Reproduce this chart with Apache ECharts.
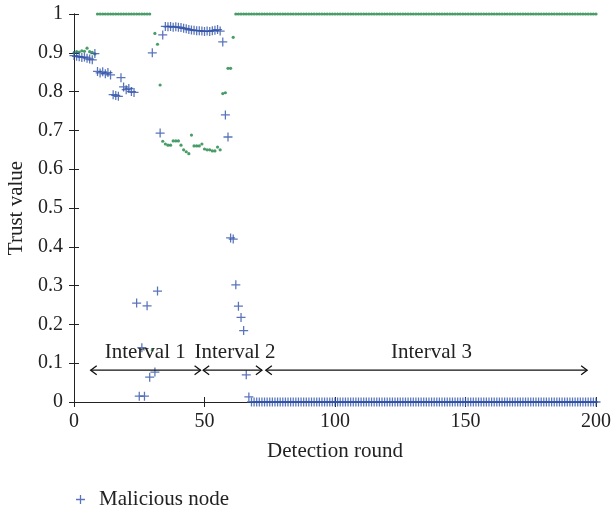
<!DOCTYPE html>
<html>
<head>
<meta charset="utf-8">
<script src="https://cdn.jsdelivr.net/npm/echarts@6/dist/echarts.min.js"></script>
<style>html,body{margin:0;padding:0;background:#fff}#c{width:611px;height:510px}</style>
</head>
<body>
<div id="c"></div>
<script>
// Trust values per detection round (index = round 0..200)
const maliciousTrust = [
0.893,0.891,0.890,0.888,0.889,0.886,0.884,0.882,0.898,0.852,
0.848,0.851,0.846,0.849,0.843,0.792,0.790,0.788,0.836,0.812,
0.805,0.808,0.800,0.798,0.255,0.015,0.140,0.015,0.248,0.064,
0.900,0.077,0.286,0.693,0.946,0.968,0.967,0.968,0.966,0.967,
0.966,0.965,0.963,0.962,0.960,0.959,0.958,0.957,0.957,0.956,
0.955,0.956,0.955,0.957,0.958,0.960,0.956,0.928,0.740,0.683,
0.423,0.420,0.302,0.247,0.218,0.184,0.070,0.013,0,0,
0,0,0,0,0,0,0,0,0,0,
0,0,0,0,0,0,0,0,0,0,
0,0,0,0,0,0,0,0,0,0,
0,0,0,0,0,0,0,0,0,0,
0,0,0,0,0,0,0,0,0,0,
0,0,0,0,0,0,0,0,0,0,
0,0,0,0,0,0,0,0,0,0,
0,0,0,0,0,0,0,0,0,0,
0,0,0,0,0,0,0,0,0,0,
0,0,0,0,0,0,0,0,0,0,
0,0,0,0,0,0,0,0,0,0,
0,0,0,0,0,0,0,0,0,0,
0,0,0,0,0,0,0,0,0,0,
0
];
const normalTrust = [
0.900,0.903,0.902,0.905,0.904,0.912,0.903,0.901,0.897,1,
1,1,1,1,1,1,1,1,1,1,
1,1,1,1,1,1,1,1,1,1,
0.134,0.950,0.922,0.817,0.672,0.665,0.662,0.662,0.673,0.673,
0.673,0.662,0.650,0.645,0.640,0.688,0.660,0.660,0.660,0.665,
0.652,0.650,0.650,0.647,0.647,0.657,0.650,0.795,0.797,0.860,
0.860,0.940,1,1,1,1,1,1,1,1,
1,1,1,1,1,1,1,1,1,1,
1,1,1,1,1,1,1,1,1,1,
1,1,1,1,1,1,1,1,1,1,
1,1,1,1,1,1,1,1,1,1,
1,1,1,1,1,1,1,1,1,1,
1,1,1,1,1,1,1,1,1,1,
1,1,1,1,1,1,1,1,1,1,
1,1,1,1,1,1,1,1,1,1,
1,1,1,1,1,1,1,1,1,1,
1,1,1,1,1,1,1,1,1,1,
1,1,1,1,1,1,1,1,1,1,
1,1,1,1,1,1,1,1,1,1,
1,1,1,1,1,1,1,1,1,1,
1
];
const xTicks = [0, 50, 100, 150, 200];
const intervalLabels = ['Interval 1', 'Interval 2', 'Interval 3'];
const intervalStart = [6.4, 49.5, 73.5];
const intervalEnd = [48.5, 72, 196.6];
const intervalLabelX = [27.3, 61.7, 137];
const intervalArrowY = [0.082, 0.082, 0.082];
const intervalLabelY = [0.128, 0.128, 0.128];

const FONT = '"Liberation Serif", "DejaVu Serif", serif';
const BLUE = '#2f51a8';
const GREEN = '#1c8444';
const PLUS = 'path://M4.3,0H5.7V4.3H10V5.7H5.7V10H4.3V5.7H0V4.3H4.3Z';

const chart = echarts.init(document.getElementById('c'), null, {renderer: 'canvas'});

const malData = maliciousTrust.map((v, i) => [i, v]);
const norData = normalTrust.map((v, i) => [i, v]);
const intervalData = intervalLabels.map((l, i) => [intervalStart[i], intervalEnd[i], intervalLabelX[i], intervalArrowY[i], intervalLabelY[i], l]);

const axisLine = {show: true, lineStyle: {color: '#222', width: 1}};
const axisTick = {show: true, inside: true, length: 5, lineStyle: {color: '#222', width: 1}};
const tickStyle = {fontFamily: FONT, fontSize: 20, color: '#222'};
const nameStyle = {fontFamily: FONT, fontSize: 21, color: '#222'};

chart.setOption({
  animation: false,
  backgroundColor: '#fff',
  grid: {left: 74, right: 15, top: 14, bottom: 108, containLabel: false, outerBoundsMode: 'none'},
  legend: {
    data: [{name: 'Malicious node', icon: PLUS}],
    left: 71, top: 484, itemWidth: 9, itemHeight: 9, itemGap: 10,
    textStyle: {fontFamily: FONT, fontSize: 21, color: '#222', padding: [0, 0, 0, 9]}
  },
  xAxis: [
    {type: 'value', position: 'bottom', min: 0, max: 200, interval: 50,
     axisLine, axisTick, splitLine: {show: false},
     axisLabel: Object.assign({margin: 10}, tickStyle),
     name: 'Detection round', nameLocation: 'middle', nameGap: 39,
     nameTextStyle: nameStyle},
    {type: 'value', position: 'top', min: 0, max: 200, interval: 50,
     axisLine, axisTick, splitLine: {show: false}, axisLabel: {show: false}}
  ],
  yAxis: [
    {type: 'value', position: 'left', min: 0, max: 1, interval: 0.1,
     axisLine, axisTick, splitLine: {show: false},
     axisLabel: Object.assign({margin: 11}, tickStyle),
     name: 'Trust value', nameLocation: 'middle', nameGap: 46, nameRotate: 90,
     nameTextStyle: nameStyle},
    {type: 'value', position: 'right', min: 0, max: 1, interval: 0.1,
     axisLine, axisTick, splitLine: {show: false}, axisLabel: {show: false}}
  ],
  series: [
    {name: 'Normal node', type: 'scatter', data: norData, symbol: 'circle', symbolSize: 3.2,
     itemStyle: {color: GREEN}, xAxisIndex: 0, yAxisIndex: 0, clip: false},
    {name: 'Malicious node', type: 'scatter', data: malData, symbol: PLUS, symbolSize: 9,
     itemStyle: {color: BLUE}, xAxisIndex: 0, yAxisIndex: 0, clip: false},
    {name: 'intervals', type: 'custom', xAxisIndex: 0, yAxisIndex: 0, data: intervalData,
     encode: {x: [0, 1, 2], y: [3, 4]}, silent: true, z: 5,
     renderItem: function (params, api) {
       const s = api.coord([api.value(0), api.value(3)]);
       const e = api.coord([api.value(1), api.value(3)]);
       const t = api.coord([api.value(2), api.value(4)]);
       const ax = 6, ay = 4.5;
       const ls = {stroke: '#111', lineWidth: 1.3, fill: null};
       return {type: 'group', children: [
         {type: 'line', shape: {x1: s[0], y1: s[1], x2: e[0], y2: e[1]}, style: ls},
         {type: 'polyline', shape: {points: [[s[0] + ax, s[1] - ay], [s[0], s[1]], [s[0] + ax, s[1] + ay]]}, style: ls},
         {type: 'polyline', shape: {points: [[e[0] - ax, e[1] - ay], [e[0], e[1]], [e[0] - ax, e[1] + ay]]}, style: ls},
         {type: 'text', style: {text: api.value(5), x: t[0], y: t[1], align: 'center', verticalAlign: 'middle',
           font: '21px ' + FONT, fill: '#222'}}
       ]};
     }}
  ]
});
</script>
</body>
</html>
